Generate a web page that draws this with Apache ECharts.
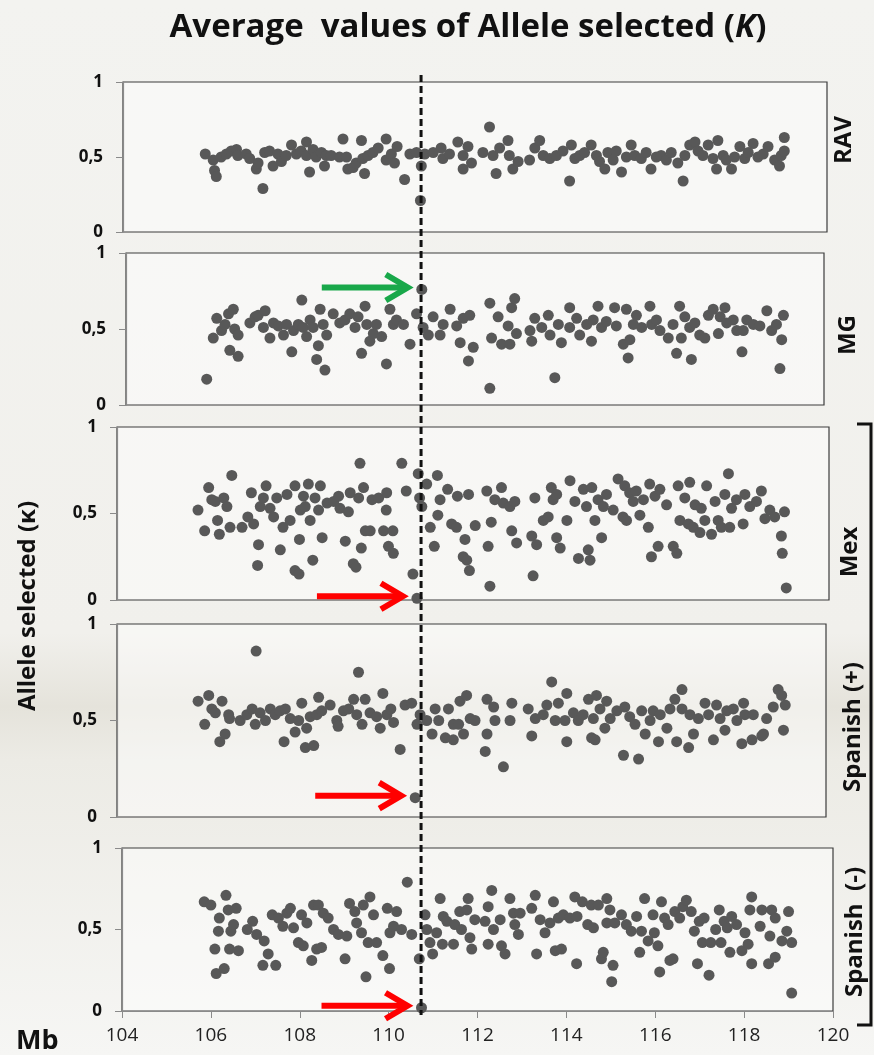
<!DOCTYPE html>
<html>
<head>
<meta charset="utf-8">
<title>Average values of Allele selected (K)</title>
<script src="https://cdn.jsdelivr.net/npm/echarts@6.0.0/dist/echarts.min.js"></script>
<style>
  html, body { margin: 0; padding: 0; background: #f4f4f1; }
  #main { width: 874px; height: 1055px; }
</style>
</head>
<body>
<div id="main"></div>
<script>
// x = position (Mb), y = allele selected (K)
var rav = [
  [105.87,0.52],[106.05,0.48],[106.08,0.41],[106.12,0.37],[106.23,0.5],[106.35,0.52],[106.46,0.54],[106.58,0.55],[106.61,0.51],[106.8,0.52],
  [106.88,0.49],[107.03,0.42],[107.07,0.46],[107.18,0.29],[107.22,0.53],[107.33,0.54],[107.41,0.44],[107.52,0.52],[107.6,0.47],[107.71,0.51],
  [107.83,0.58],[107.94,0.52],[108.05,0.54],[108.17,0.6],[108.17,0.51],[108.24,0.4],[108.32,0.55],[108.39,0.5],[108.51,0.53],[108.58,0.44],
  [108.62,0.51],[108.73,0.51],[108.92,0.5],[109.0,0.62],[109.08,0.5],[109.11,0.42],[109.23,0.43],[109.3,0.46],[109.42,0.61],[109.45,0.49],
  [109.49,0.39],[109.57,0.51],[109.68,0.53],[109.8,0.56],[109.98,0.62],[109.98,0.48],[110.1,0.52],[110.17,0.46],[110.23,0.57],[110.4,0.35],
  [110.52,0.52],[110.67,0.53],[110.76,0.21],[110.78,0.44],[110.86,0.52],[111.05,0.53],[111.23,0.56],[111.27,0.49],[111.42,0.52],[111.61,0.6],
  [111.73,0.51],[111.73,0.42],[111.84,0.57],[111.92,0.46],[112.18,0.53],[112.33,0.7],[112.41,0.51],[112.48,0.39],[112.56,0.56],[112.75,0.61],
  [112.78,0.51],[112.86,0.42],[112.98,0.47],[113.24,0.48],[113.36,0.56],[113.47,0.61],[113.55,0.51],[113.7,0.49],[113.85,0.51],[114.0,0.54],
  [114.15,0.34],[114.19,0.58],[114.27,0.49],[114.38,0.51],[114.49,0.53],[114.64,0.58],[114.76,0.51],[114.83,0.47],[114.95,0.42],[115.02,0.53],
  [115.14,0.48],[115.21,0.54],[115.33,0.4],[115.44,0.5],[115.55,0.58],[115.63,0.51],[115.78,0.49],[115.89,0.53],[116.0,0.42],[116.12,0.5],
  [116.23,0.51],[116.35,0.48],[116.46,0.53],[116.61,0.46],[116.73,0.34],[116.77,0.51],[116.88,0.58],[117.0,0.6],[117.07,0.54],[117.18,0.51],
  [117.3,0.58],[117.41,0.49],[117.49,0.42],[117.52,0.61],[117.64,0.51],[117.71,0.48],[117.83,0.42],[117.9,0.5],[118.02,0.57],[118.13,0.49],
  [118.21,0.53],[118.32,0.59],[118.43,0.5],[118.55,0.52],[118.66,0.57],[118.81,0.48],[118.92,0.44],[118.96,0.51],[119.03,0.63],[119.03,0.54]
];

var mg = [
  [105.85,0.17],[106.0,0.44],[106.08,0.57],[106.19,0.49],[106.27,0.53],[106.35,0.6],[106.38,0.36],[106.46,0.63],[106.49,0.5],[106.57,0.46],
  [106.57,0.32],[106.84,0.54],[106.96,0.58],[107.03,0.59],[107.15,0.51],[107.19,0.62],[107.3,0.44],[107.38,0.54],[107.49,0.52],[107.61,0.46],
  [107.68,0.53],[107.8,0.35],[107.84,0.49],[107.95,0.53],[108.03,0.69],[108.06,0.51],[108.14,0.45],[108.22,0.56],[108.29,0.51],[108.37,0.3],
  [108.41,0.39],[108.45,0.63],[108.52,0.53],[108.56,0.23],[108.6,0.46],[108.75,0.6],[108.9,0.54],[109.02,0.56],[109.13,0.6],[109.25,0.51],
  [109.32,0.58],[109.4,0.34],[109.48,0.65],[109.52,0.53],[109.59,0.42],[109.67,0.47],[109.74,0.53],[109.86,0.45],[109.97,0.27],[110.05,0.63],
  [110.13,0.53],[110.2,0.56],[110.36,0.53],[110.51,0.4],[110.66,0.6],[110.78,0.76],[110.81,0.51],[110.93,0.46],[111.04,0.58],[111.2,0.46],
  [111.27,0.53],[111.43,0.63],[111.58,0.52],[111.66,0.41],[111.73,0.57],[111.85,0.29],[111.88,0.59],[111.96,0.38],[112.34,0.67],[112.34,0.11],
  [112.38,0.44],[112.53,0.58],[112.61,0.4],[112.76,0.52],[112.8,0.4],[112.84,0.64],[112.91,0.7],[112.95,0.47],[113.26,0.49],[113.3,0.42],
  [113.37,0.57],[113.53,0.51],[113.68,0.59],[113.72,0.46],[113.83,0.18],[113.91,0.53],[113.98,0.41],[114.17,0.64],[114.17,0.51],[114.33,0.57],
  [114.4,0.46],[114.56,0.53],[114.67,0.42],[114.71,0.56],[114.82,0.65],[114.9,0.51],[115.01,0.55],[115.2,0.64],[115.24,0.52],[115.4,0.4],
  [115.47,0.63],[115.51,0.31],[115.55,0.43],[115.63,0.53],[115.7,0.59],[115.82,0.51],[116.01,0.65],[116.05,0.53],[116.16,0.56],[116.24,0.49],
  [116.43,0.44],[116.54,0.53],[116.62,0.34],[116.69,0.65],[116.73,0.44],[116.81,0.58],[116.92,0.51],[116.96,0.3],[117.04,0.54],[117.15,0.46],
  [117.27,0.44],[117.35,0.59],[117.46,0.63],[117.58,0.47],[117.62,0.58],[117.73,0.64],[117.77,0.54],[117.92,0.56],[118.0,0.49],[118.12,0.35],
  [118.15,0.49],[118.23,0.56],[118.38,0.53],[118.53,0.52],[118.69,0.62],[118.8,0.49],[118.91,0.53],[118.99,0.24],[119.03,0.43],[119.07,0.59]
];

var mex = [
  [105.82,0.52],[105.97,0.4],[106.06,0.65],[106.13,0.58],[106.21,0.57],[106.26,0.46],[106.3,0.38],[106.4,0.59],[106.47,0.54],[106.54,0.42],
  [106.58,0.72],[106.81,0.42],[106.94,0.48],[107.02,0.62],[107.07,0.44],[107.18,0.32],[107.16,0.2],[107.22,0.54],[107.29,0.59],[107.35,0.66],
  [107.44,0.53],[107.52,0.48],[107.59,0.59],[107.67,0.29],[107.73,0.42],[107.82,0.61],[107.89,0.46],[108.0,0.66],[108.0,0.17],[108.09,0.15],
  [108.1,0.35],[108.12,0.52],[108.19,0.6],[108.23,0.54],[108.3,0.67],[108.34,0.46],[108.4,0.23],[108.45,0.59],[108.53,0.52],[108.57,0.66],
  [108.61,0.36],[108.72,0.56],[108.87,0.57],[108.98,0.6],[109.01,0.53],[109.13,0.34],[109.2,0.51],[109.24,0.62],[109.31,0.21],[109.37,0.19],
  [109.43,0.59],[109.46,0.79],[109.49,0.3],[109.54,0.65],[109.58,0.4],[109.69,0.4],[109.73,0.58],[109.88,0.59],[110.05,0.52],[110.06,0.62],
  [109.99,0.4],[110.1,0.31],[110.2,0.4],[110.21,0.27],[110.4,0.79],[110.5,0.63],[110.65,0.15],[110.74,0.01],[110.77,0.73],[110.8,0.59],
  [110.85,0.54],[110.96,0.67],[111.04,0.42],[111.13,0.31],[111.2,0.72],[111.21,0.49],[111.26,0.58],[111.43,0.64],[111.52,0.44],[111.63,0.42],
  [111.65,0.6],[111.78,0.25],[111.82,0.35],[111.86,0.23],[111.92,0.17],[111.9,0.61],[112.05,0.43],[112.31,0.63],[112.34,0.31],[112.38,0.08],
  [112.41,0.45],[112.49,0.58],[112.64,0.65],[112.68,0.56],[112.83,0.54],[112.87,0.4],[112.94,0.57],[112.98,0.33],[113.32,0.37],[113.35,0.14],
  [113.39,0.59],[113.43,0.32],[113.58,0.46],[113.69,0.48],[113.76,0.65],[113.8,0.58],[113.88,0.36],[113.88,0.61],[113.96,0.3],[114.11,0.46],
  [114.18,0.69],[114.29,0.57],[114.37,0.24],[114.48,0.64],[114.55,0.54],[114.59,0.29],[114.63,0.23],[114.67,0.65],[114.74,0.46],[114.81,0.58],
  [114.89,0.36],[114.93,0.54],[115.0,0.61],[115.15,0.52],[115.26,0.7],[115.37,0.48],[115.41,0.66],[115.45,0.46],[115.52,0.62],[115.6,0.57],
  [115.67,0.63],[115.75,0.49],[115.83,0.58],[115.94,0.42],[115.97,0.67],[116.01,0.25],[116.09,0.6],[116.16,0.31],[116.2,0.64],[116.35,0.55],
  [116.5,0.31],[116.58,0.27],[116.61,0.66],[116.65,0.46],[116.76,0.59],[116.84,0.44],[116.87,0.68],[116.95,0.42],[116.99,0.55],[117.1,0.39],
  [117.13,0.53],[117.21,0.46],[117.25,0.66],[117.36,0.38],[117.44,0.57],[117.51,0.46],[117.58,0.42],[117.66,0.61],[117.74,0.73],[117.77,0.42],
  [117.81,0.53],[117.92,0.58],[118.07,0.44],[118.11,0.61],[118.22,0.54],[118.37,0.57],[118.48,0.63],[118.56,0.47],[118.67,0.52],[118.78,0.48],
  [118.93,0.37],[118.95,0.27],[119.0,0.51],[119.04,0.07]
];

var spanishPlus = [
  [105.83,0.6],[105.98,0.48],[106.07,0.63],[106.14,0.56],[106.22,0.54],[106.32,0.39],[106.37,0.6],[106.44,0.43],[106.52,0.53],[106.54,0.51],
  [106.78,0.5],[106.93,0.53],[107.05,0.56],[107.14,0.86],[107.12,0.48],[107.23,0.54],[107.35,0.5],[107.46,0.56],[107.57,0.53],[107.68,0.55],
  [107.77,0.39],[107.8,0.56],[107.91,0.51],[108.02,0.44],[108.1,0.5],[108.17,0.59],[108.25,0.36],[108.28,0.46],[108.36,0.52],[108.44,0.37],
  [108.51,0.53],[108.55,0.62],[108.62,0.55],[108.81,0.58],[108.96,0.5],[108.99,0.47],[109.11,0.55],[109.23,0.56],[109.34,0.61],[109.41,0.53],
  [109.45,0.75],[109.53,0.48],[109.6,0.61],[109.71,0.54],[109.86,0.52],[109.94,0.46],[110.0,0.64],[110.09,0.53],[110.18,0.56],[110.24,0.49],
  [110.39,0.35],[110.5,0.58],[110.65,0.59],[110.73,0.1],[110.77,0.48],[110.84,0.53],[110.99,0.5],[111.11,0.43],[111.18,0.56],[111.26,0.5],
  [111.41,0.41],[111.48,0.56],[111.59,0.4],[111.59,0.48],[111.71,0.48],[111.74,0.6],[111.82,0.43],[111.89,0.63],[111.97,0.51],[112.08,0.5],
  [112.31,0.34],[112.35,0.61],[112.35,0.43],[112.5,0.57],[112.53,0.5],[112.72,0.26],[112.87,0.5],[112.91,0.59],[113.28,0.56],[113.36,0.42],
  [113.44,0.51],[113.62,0.53],[113.7,0.58],[113.81,0.7],[113.89,0.5],[113.96,0.59],[114.11,0.5],[114.15,0.39],[114.15,0.64],[114.3,0.54],
  [114.41,0.5],[114.52,0.53],[114.64,0.61],[114.71,0.41],[114.75,0.51],[114.79,0.4],[114.82,0.63],[114.9,0.56],[115.01,0.46],[115.05,0.6],
  [115.13,0.51],[115.28,0.55],[115.43,0.32],[115.46,0.57],[115.57,0.52],[115.69,0.48],[115.77,0.3],[115.84,0.55],[115.92,0.43],[116.03,0.5],
  [116.1,0.55],[116.22,0.39],[116.26,0.53],[116.41,0.46],[116.48,0.56],[116.59,0.61],[116.63,0.39],[116.75,0.66],[116.75,0.56],[116.9,0.36],
  [116.93,0.53],[117.01,0.43],[117.12,0.51],[117.27,0.59],[117.35,0.53],[117.46,0.4],[117.53,0.58],[117.61,0.51],[117.72,0.45],[117.76,0.55],
  [117.91,0.56],[117.99,0.5],[118.1,0.38],[118.14,0.59],[118.17,0.53],[118.33,0.4],[118.36,0.53],[118.55,0.42],[118.59,0.43],[118.66,0.51],
  [118.81,0.57],[118.92,0.66],[119.0,0.63],[119.04,0.45],[119.08,0.58]
];

var spanishMinus = [
  [105.85,0.67],[106.0,0.65],[106.09,0.38],[106.12,0.23],[106.17,0.49],[106.19,0.57],[106.3,0.26],[106.34,0.71],[106.39,0.62],[106.42,0.38],
  [106.45,0.49],[106.51,0.53],[106.57,0.63],[106.62,0.37],[106.82,0.5],[106.94,0.55],[107.03,0.47],[107.17,0.28],[107.2,0.43],[107.29,0.35],
  [107.38,0.59],[107.46,0.28],[107.52,0.57],[107.62,0.52],[107.71,0.6],[107.79,0.63],[107.86,0.51],[107.97,0.42],[108.04,0.59],[108.08,0.4],
  [108.16,0.54],[108.27,0.31],[108.31,0.65],[108.42,0.65],[108.38,0.38],[108.49,0.39],[108.53,0.6],[108.64,0.57],[108.76,0.5],[108.87,0.47],
  [109.02,0.32],[109.06,0.46],[109.12,0.66],[109.24,0.61],[109.28,0.54],[109.39,0.48],[109.43,0.65],[109.49,0.21],[109.54,0.42],[109.58,0.7],
  [109.66,0.59],[109.73,0.42],[109.87,0.34],[109.97,0.63],[110.02,0.26],[110.03,0.48],[110.11,0.52],[110.18,0.61],[110.29,0.5],[110.42,0.79],
  [110.52,0.47],[110.69,0.32],[110.74,0.02],[110.82,0.59],[110.86,0.5],[110.93,0.42],[110.99,0.35],[111.08,0.48],[111.16,0.69],[111.21,0.41],
  [111.23,0.58],[111.31,0.55],[111.46,0.41],[111.49,0.53],[111.6,0.61],[111.64,0.5],[111.76,0.62],[111.79,0.69],[111.83,0.45],[111.87,0.38],
  [111.94,0.56],[112.17,0.55],[112.24,0.64],[112.24,0.41],[112.32,0.74],[112.36,0.5],[112.51,0.56],[112.54,0.4],[112.62,0.35],[112.73,0.69],
  [112.81,0.6],[112.84,0.53],[112.92,0.47],[112.96,0.6],[113.22,0.63],[113.3,0.71],[113.33,0.35],[113.41,0.56],[113.52,0.48],[113.63,0.54],
  [113.71,0.67],[113.75,0.37],[113.82,0.57],[113.89,0.38],[113.93,0.59],[114.08,0.57],[114.19,0.7],[114.23,0.29],[114.24,0.58],[114.36,0.67],
  [114.48,0.53],[114.56,0.65],[114.61,0.51],[114.72,0.65],[114.79,0.32],[114.83,0.36],[114.91,0.69],[114.91,0.54],[114.98,0.62],[115.02,0.18],
  [115.05,0.28],[115.09,0.54],[115.24,0.59],[115.35,0.53],[115.46,0.49],[115.58,0.58],[115.65,0.36],[115.69,0.49],[115.76,0.69],[115.84,0.43],
  [115.95,0.59],[115.98,0.48],[116.06,0.4],[116.1,0.24],[116.14,0.67],[116.21,0.57],[116.29,0.53],[116.33,0.31],[116.4,0.32],[116.44,0.61],
  [116.55,0.57],[116.62,0.64],[116.7,0.68],[116.81,0.61],[116.88,0.49],[116.95,0.29],[116.99,0.55],[117.06,0.42],[117.1,0.57],[117.21,0.22],
  [117.25,0.42],[117.36,0.5],[117.44,0.62],[117.48,0.42],[117.55,0.55],[117.62,0.51],[117.68,0.36],[117.72,0.58],[117.83,0.53],[117.95,0.37],
  [118.02,0.48],[118.09,0.41],[118.13,0.62],[118.17,0.7],[118.17,0.29],[118.36,0.52],[118.4,0.62],[118.55,0.29],[118.58,0.46],[118.62,0.62],
  [118.7,0.33],[118.7,0.57],[118.85,0.43],[118.96,0.49],[119.0,0.61],[119.07,0.42],[119.07,0.11]
];

var panelNames = ['RAV', 'MG', 'Mex', 'Spanish (+)', 'Spanish  (-)'];
var panelData = [rav, mg, mex, spanishPlus, spanishMinus];
var xTicks = [104, 106, 108, 110, 112, 114, 116, 118, 120];
var yTickLabels = ['0', '0,5', '1'];
var markerX = 110.73; // dashed line position (Mb)
// points the arrows point at: [panel, x, y]
var arrowTargets = [[1, 110.78, 0.76], [2, 110.74, 0.01], [3, 110.73, 0.1], [4, 110.74, 0.02]];
var arrowColors = ['#19a84a', '#ff0000', '#ff0000', '#ff0000'];

// panel boxes: left, top, width, height (px)
var boxes = [
  [123, 82, 704, 150],
  [126, 253, 698, 152],
  [117, 427, 712, 173],
  [117, 624, 709, 193],
  [122, 848, 711, 163]
];
var labelPos = [[844, 140], [848, 335], [850, 552], [853, 727], [855, 932]];

var myChart = echarts.init(document.getElementById('main'));

var grids = [], xAxes = [], yAxes = [], series = [];
for (var i = 0; i < 5; i++) {
  grids.push({
    left: boxes[i][0], top: boxes[i][1], width: boxes[i][2], height: boxes[i][3],
    show: true,
    backgroundColor: 'rgba(255,255,255,0.45)',
    borderColor: '#3c3c3c',
    borderWidth: 1.2
  });
  xAxes.push({
    gridIndex: i,
    type: 'value',
    min: xTicks[0],
    max: xTicks[xTicks.length - 1],
    interval: 2,
    show: i === 4,
    axisLine: { lineStyle: { color: '#8a8a8a', width: 1.2 } },
    axisTick: { show: true, length: 7, lineStyle: { color: '#8a8a8a' } },
    axisLabel: { margin: 15, fontSize: 19, color: '#222', fontFamily: 'Open Sans' },
    splitLine: { show: false }
  });
  yAxes.push({
    gridIndex: i,
    type: 'value',
    min: 0,
    max: 1,
    interval: 0.5,
    axisLine: { show: true, lineStyle: { color: '#8a8a8a', width: 1.2 } },
    axisTick: { show: true, length: 7, lineStyle: { color: '#8a8a8a' } },
    axisLabel: {
      margin: 20, fontSize: 17, fontWeight: 'bold', color: '#111', fontFamily: 'Open Sans',
      formatter: function (v) { return yTickLabels[Math.round(v * 2)]; }
    },
    splitLine: { show: false }
  });
  series.push({
    name: panelNames[i],
    type: 'scatter',
    xAxisIndex: i,
    yAxisIndex: i,
    data: panelData[i],
    symbolSize: 11,
    itemStyle: { color: '#585858', opacity: 1 },
    z: 3
  });
}

var option = {
  animation: false,
  backgroundColor: {
    type: 'linear', x: 0, y: 0, x2: 0, y2: 1,
    colorStops: [
      { offset: 0, color: '#f3f3f0' },
      { offset: 0.6, color: '#f1f0ec' },
      { offset: 0.67, color: '#e5e3db' },
      { offset: 0.72, color: '#ecebe5' },
      { offset: 1, color: '#f6f6f4' }
    ]
  },
  grid: grids,
  xAxis: xAxes,
  yAxis: yAxes,
  series: series
};
myChart.setOption(option);

// overlay: title, side labels, dashed line, arrows, bracket
var g = [];
g.push({
  type: 'text', x: 468, y: 28, z: 10,
  style: {
    text: '{a|Average  values of Allele selected (}{k|K}{a|)}',
    align: 'center', verticalAlign: 'middle',
    rich: {
      a: { font: 'bold 33px "Open Sans"', fill: '#111' },
      k: { font: 'italic bold 33px "Open Sans"', fill: '#111' }
    }
  }
});
g.push({
  type: 'text', x: 28, y: 606, rotation: Math.PI / 2, z: 10,
  style: { text: 'Allele selected (\u03ba)', align: 'center', verticalAlign: 'middle', font: 'bold 24px "Open Sans"', fill: '#111' }
});
g.push({
  type: 'text', x: 16, y: 1041, z: 10,
  style: { text: 'Mb', align: 'left', verticalAlign: 'middle', font: 'bold 27px "Open Sans"', fill: '#111' }
});
for (var j = 0; j < 5; j++) {
  g.push({
    type: 'text', x: labelPos[j][0], y: labelPos[j][1], rotation: Math.PI / 2, z: 10,
    style: { text: panelNames[j], align: 'center', verticalAlign: 'middle', font: 'bold 24px "Open Sans"', fill: '#111' }
  });
}
// bracket around Mex / Spanish panels
g.push({
  type: 'polyline', z: 10,
  shape: { points: [[857, 424], [871, 424], [871, 1025], [857, 1025]] },
  style: { stroke: '#111', lineWidth: 3, fill: null }
});
// dashed vertical line at markerX
var dx = myChart.convertToPixel({ xAxisIndex: 4 }, markerX);
g.push({
  type: 'line', z: 8,
  shape: { x1: dx, y1: 75, x2: dx, y2: 1015 },
  style: { stroke: '#111', lineWidth: 3, lineDash: [7, 4] }
});
// arrows
arrowTargets.forEach(function (t, k) {
  var p = myChart.convertToPixel({ seriesIndex: t[0] }, [t[1], t[2]]);
  var tx = p[0] - 12, ty = p[1] - 2;
  g.push({
    type: 'line', z: 9,
    shape: { x1: tx - 88, y1: ty, x2: tx - 4, y2: ty },
    style: { stroke: arrowColors[k], lineWidth: 6 }
  });
  g.push({
    type: 'polyline', z: 9,
    shape: { points: [[tx - 24, ty - 13], [tx - 2, ty], [tx - 24, ty + 13]] },
    style: { stroke: arrowColors[k], lineWidth: 6, fill: null, lineJoin: 'miter' }
  });
});
myChart.setOption({ graphic: g });
</script>
</body>
</html>
